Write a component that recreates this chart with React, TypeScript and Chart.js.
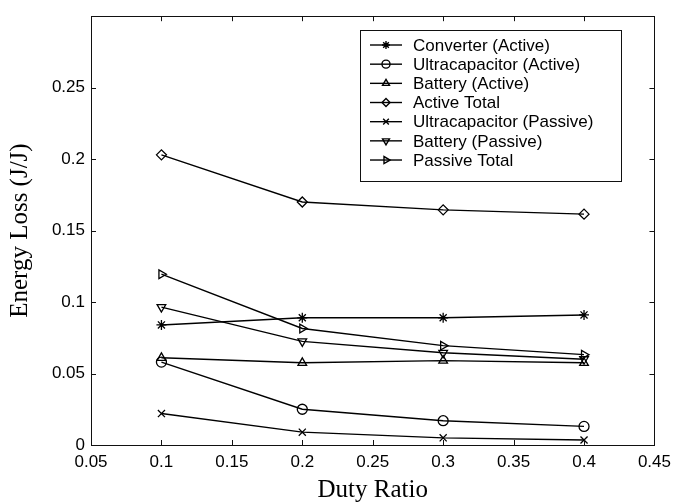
import React, { useEffect, useRef } from 'react';
import { Chart, registerables } from 'chart.js';
import { drawPoint } from 'chart.js/helpers';

Chart.register(...registerables);

const dutyRatio = [0.1, 0.2, 0.3, 0.4];
const converterActive = [0.084, 0.089, 0.089, 0.091];
const ultracapActive = [0.058, 0.025, 0.017, 0.013];
const batteryActive = [0.061, 0.0575, 0.059, 0.0575];
const activeTotal = [0.203, 0.170, 0.1645, 0.1615];
const ultracapPassive = [0.022, 0.009, 0.005, 0.0035];
const batteryPassive = [0.0965, 0.0725, 0.0645, 0.0600];
const passiveTotal = [0.1195, 0.0815, 0.0695, 0.0632];

const seriesNames = [
  'Converter (Active)',
  'Ultracapacitor (Active)',
  'Battery (Active)',
  'Active Total',
  'Ultracapacitor (Passive)',
  'Battery (Passive)',
  'Passive Total',
];
const seriesValues = [
  converterActive,
  ultracapActive,
  batteryActive,
  activeTotal,
  ultracapPassive,
  batteryPassive,
  passiveTotal,
];
const markerStyles = ['star', 'circle', 'triangle', 'rectRot', 'crossRot', 'triangle', 'triangle'];
const markerRotations = [0, 0, 0, 0, 0, 180, 90];

const xAxisTitle = 'Duty Ratio';
const yAxisTitle = 'Energy Loss (J/J)';

const fmt = (v: number) => String(Number(v.toFixed(2)));

const framePlugin = {
  id: 'framePlugin',
  afterDraw(chart: any) {
    const ctx = chart.ctx;
    const { left, right, top, bottom } = chart.chartArea;
    const xs = chart.scales.x;
    const ys = chart.scales.y;
    ctx.save();
    ctx.strokeStyle = '#111';
    ctx.lineWidth = 1;
    ctx.strokeRect(Math.round(left) + 0.5, Math.round(top) + 0.5, Math.round(right - left), Math.round(bottom - top));
    const tl = 5;
    ctx.beginPath();
    xs.ticks.forEach((t: any) => {
      const px = Math.round(xs.getPixelForValue(t.value)) + 0.5;
      ctx.moveTo(px, bottom);
      ctx.lineTo(px, bottom - tl);
      ctx.moveTo(px, top);
      ctx.lineTo(px, top + tl);
    });
    ys.ticks.forEach((t: any) => {
      const py = Math.round(ys.getPixelForValue(t.value)) + 0.5;
      ctx.moveTo(left, py);
      ctx.lineTo(left + tl, py);
      ctx.moveTo(right, py);
      ctx.lineTo(right - tl, py);
    });
    ctx.stroke();

    // legend
    const bx = 360.5, by = 30.5, bw = 261, bh = 151;
    ctx.fillStyle = '#fff';
    ctx.fillRect(bx, by, bw, bh);
    ctx.strokeStyle = '#111';
    ctx.strokeRect(bx, by, bw, bh);
    ctx.font = '17px "Liberation Sans", Arial, sans-serif';
    ctx.textBaseline = 'middle';
    ctx.textAlign = 'left';
    chart.data.datasets.forEach((ds: any, i: number) => {
      const y = 45 + i * 19.17;
      ctx.strokeStyle = '#000';
      ctx.lineWidth = 1.4;
      ctx.beginPath();
      ctx.moveTo(370, y);
      ctx.lineTo(402, y);
      ctx.stroke();
      ctx.fillStyle = 'rgba(0,0,0,0)';
      drawPoint(ctx, {
        pointStyle: ds.pointStyle,
        rotation: ds.pointRotation,
        radius: 4,
        borderWidth: 1.3,
      } as any, 386, y);
      ctx.fillStyle = '#000';
      ctx.fillText(ds.label, 413, y + 1);
    });
    ctx.restore();
  },
};

export default function App() {
  const ref = useRef<HTMLCanvasElement | null>(null);
  useEffect(() => {
    document.body.style.margin = '0';
    const canvas = ref.current;
    if (!canvas) return;
    const chart = new Chart(canvas, {
      type: 'line',
      data: {
        datasets: seriesNames.map((name, i) => ({
          label: name,
          data: dutyRatio.map((x, j) => ({ x, y: seriesValues[i][j] })),
          borderColor: '#000',
          borderWidth: 1.4,
          pointStyle: markerStyles[i] as any,
          pointRotation: markerRotations[i],
          pointRadius: 5,
          pointBorderWidth: 1.3,
          pointBorderColor: '#000',
          pointBackgroundColor: 'rgba(0,0,0,0)',
          fill: false,
          tension: 0,
        })),
      },
      options: {
        responsive: false,
        animation: false,
        devicePixelRatio: 1,
        layout: { padding: { top: 10, right: 20, left: 0, bottom: 0 } },
        plugins: { legend: { display: false }, tooltip: { enabled: false } },
        scales: {
          x: {
            type: 'linear',
            min: 0.05,
            max: 0.45,
            grid: { display: false, drawTicks: false },
            border: { display: false },
            ticks: {
              stepSize: 0.05,
              padding: 7,
              color: '#000',
              font: { family: '"Liberation Sans", Arial, sans-serif', size: 17 },
              maxRotation: 0,
              autoSkip: false,
              callback: (v: any) => fmt(Number(v)),
            },
            title: {
              display: true,
              text: xAxisTitle,
              color: '#000',
              font: { family: '"Liberation Serif", "Times New Roman", serif', size: 25 },
              padding: { top: 0, bottom: -2 },
            },
            afterFit: (s: any) => { s.height = 58; },
          },
          y: {
            type: 'linear',
            min: 0,
            max: 0.3,
            grid: { display: false, drawTicks: false },
            border: { display: false },
            ticks: {
              stepSize: 0.05,
              padding: 6,
              color: '#000',
              font: { family: '"Liberation Sans", Arial, sans-serif', size: 17 },
              autoSkip: false,
              callback: (v: any) => (Math.abs(Number(v) - 0.3) < 1e-9 ? '' : fmt(Number(v))),
            },
            title: {
              display: true,
              text: yAxisTitle,
              color: '#000',
              font: { family: '"Liberation Serif", "Times New Roman", serif', size: 25 },
              padding: { top: 5, bottom: 0 },
            },
            afterFit: (s: any) => { s.width = 91; },
          },
        },
      },
      plugins: [framePlugin],
    });
    return () => chart.destroy();
  }, []);
  return (
    <div style={{ position: 'fixed', left: 0, top: 0, width: 678, height: 503, background: '#fff' }}>
      <canvas ref={ref} width={678} height={503} style={{ display: 'block', width: 678, height: 503 }} />
    </div>
  );
}
